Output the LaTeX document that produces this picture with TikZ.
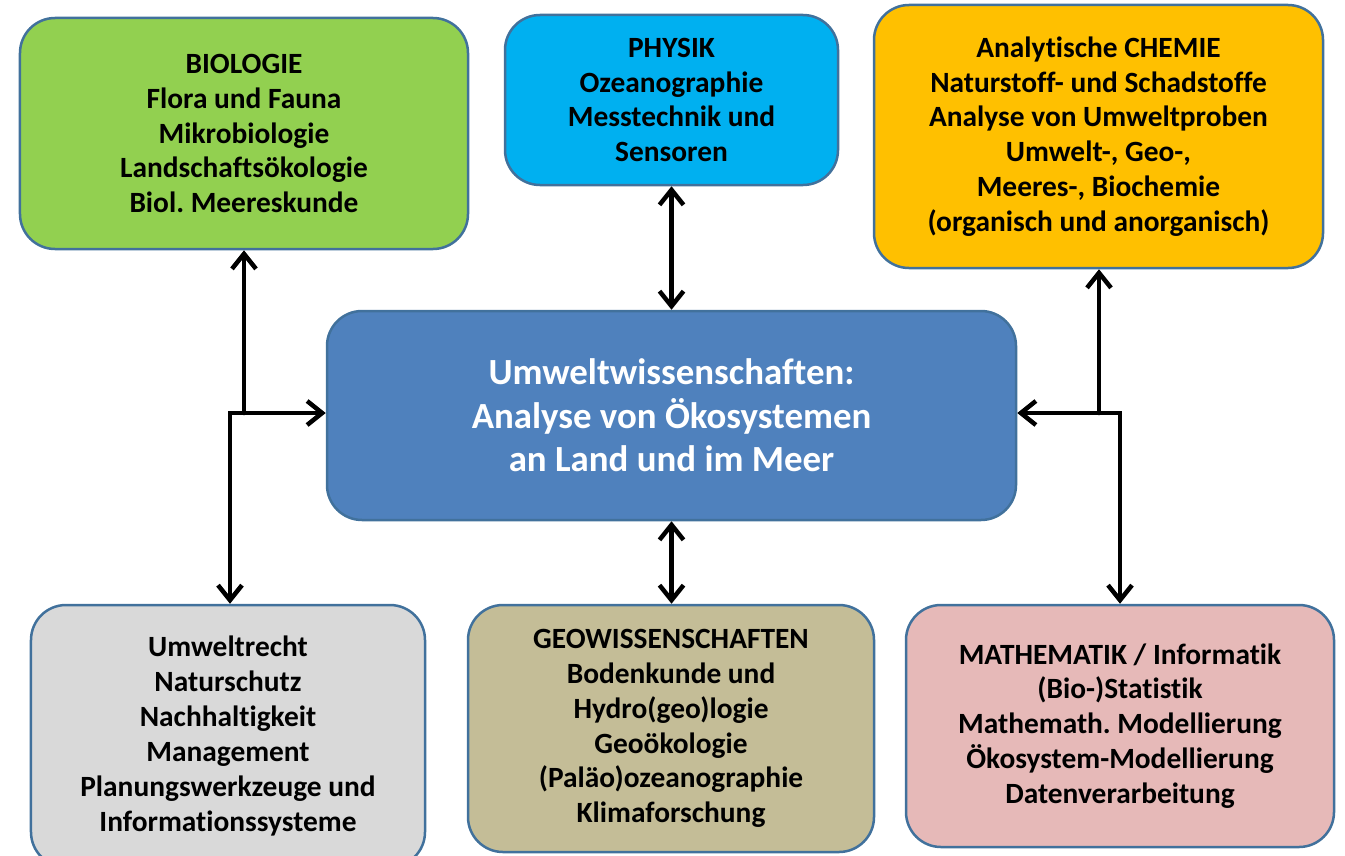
\documentclass[tikz,border=0pt]{standalone}
\usepackage{fontspec}
\setmainfont[Ligatures=NoCommon]{Carlito}
\usepackage{tikz}
\usetikzlibrary{arrows.meta,positioning,calc}
\usepackage{xcolor}
\definecolor{bioGreen}{HTML}{92D050}
\definecolor{physCyan}{HTML}{00B0F0}
\definecolor{chemOrange}{HTML}{FFC000}
\definecolor{coreBlue}{HTML}{4F81BD}
\definecolor{lawGray}{HTML}{D9D9D9}
\definecolor{geoTan}{HTML}{C4BD97}
\definecolor{mathPink}{HTML}{E6B9B8}
\definecolor{edgeBlue}{HTML}{41719C}
\frenchspacing

\begin{document}
\begin{tikzpicture}[x=1bp, y=-1bp,
    field/.style={draw=edgeBlue, line width=2.5bp, rounded corners=35bp,
      align=center, inner sep=0pt,
      font=\fontsize{29.5}{35}\selectfont\bfseries},
    link/.style={line width=4.5bp, line cap=round,
      arrows={Straight Barb[length=15bp, width=24bp]-Straight Barb[length=15bp, width=24bp]}}]
  \useasboundingbox (0,0) rectangle (1345,855);
  % Centre
  \node[field, fill=coreBlue, text=white, minimum width=689bp, minimum height=209bp,
    font=\fontsize{37}{43.5}\selectfont\bfseries] (core) at (671.5,415.5)
    {Umweltwissenschaften:\\Analyse von Ökosystemen\\an Land und im Meer};
  % Upper row
  \node[field, fill=bioGreen, minimum width=448bp, minimum height=231bp] (bio) at (244,133.5)
    {BIOLOGIE\\Flora und Fauna\\Mikrobiologie\\Landschaftsökologie\\Biol. Meereskunde};
  \node[field, fill=physCyan, minimum width=333bp, minimum height=170bp] (phys) at (671.5,100)
    {PHYSIK\\Ozeanographie\\Messtechnik und\\Sensoren};
  \node[field, fill=chemOrange, minimum width=449bp, minimum height=263bp] (chem) at (1098.5,136.5)
    {Analytische CHEMIE\\Naturstoff- und Schadstoffe\\Analyse von Umweltproben\\Umwelt-, Geo-,\\Meeres-, Biochemie\\(organisch und anorganisch)};
  % Lower row
  \node[field, fill=lawGray, minimum width=394bp, minimum height=262bp] (law) at (228,736)
    {Umweltrecht\\Naturschutz\\Nachhaltigkeit\\Management\\Planungswerkzeuge und\\Informationssysteme};
  \node[field, fill=geoTan, minimum width=406bp, minimum height=247bp] (geo) at (671,728.5)
    {GEOWISSENSCHAFTEN\\Bodenkunde und\\Hydro(geo)logie\\Geoökologie\\(Paläo)ozeanographie\\Klimaforschung};
  \node[field, fill=mathPink, minimum width=428bp, minimum height=242bp] (math) at (1120,726)
    {MATHEMATIK / Informatik\\(Bio-)Statistik\\Mathemath. Modellierung\\Ökosystem-Modellierung\\Datenverarbeitung};
  % Connectors
  \coordinate (lj) at (230,413);
  \coordinate (lb) at (244,413);
  \coordinate (rj) at (1120,413);
  \coordinate (rb) at (1099,413);
  \draw[link, -{Straight Barb[length=15bp, width=24bp]}] (lb) -- (lb |- bio.south);
  \draw[link, -{Straight Barb[length=15bp, width=24bp]}, line cap=rect] (lj) -- (lj -| core.west);
  \draw[link, -{Straight Barb[length=15bp, width=24bp]}, line cap=rect] (lj) -- (lj |- law.north);
  \draw[link, -{Straight Barb[length=15bp, width=24bp]}] (rb) -- (rb |- chem.south);
  \draw[link, -{Straight Barb[length=15bp, width=24bp]}, line cap=rect] (rj) -- (rj -| core.east);
  \draw[link, -{Straight Barb[length=15bp, width=24bp]}, line cap=rect] (rj) -- (rj |- math.north);
  \draw[link] (phys.south) -- (core.north);
  \draw[link] (core.south) -- (core.south |- geo.north);
\end{tikzpicture}
\end{document}
